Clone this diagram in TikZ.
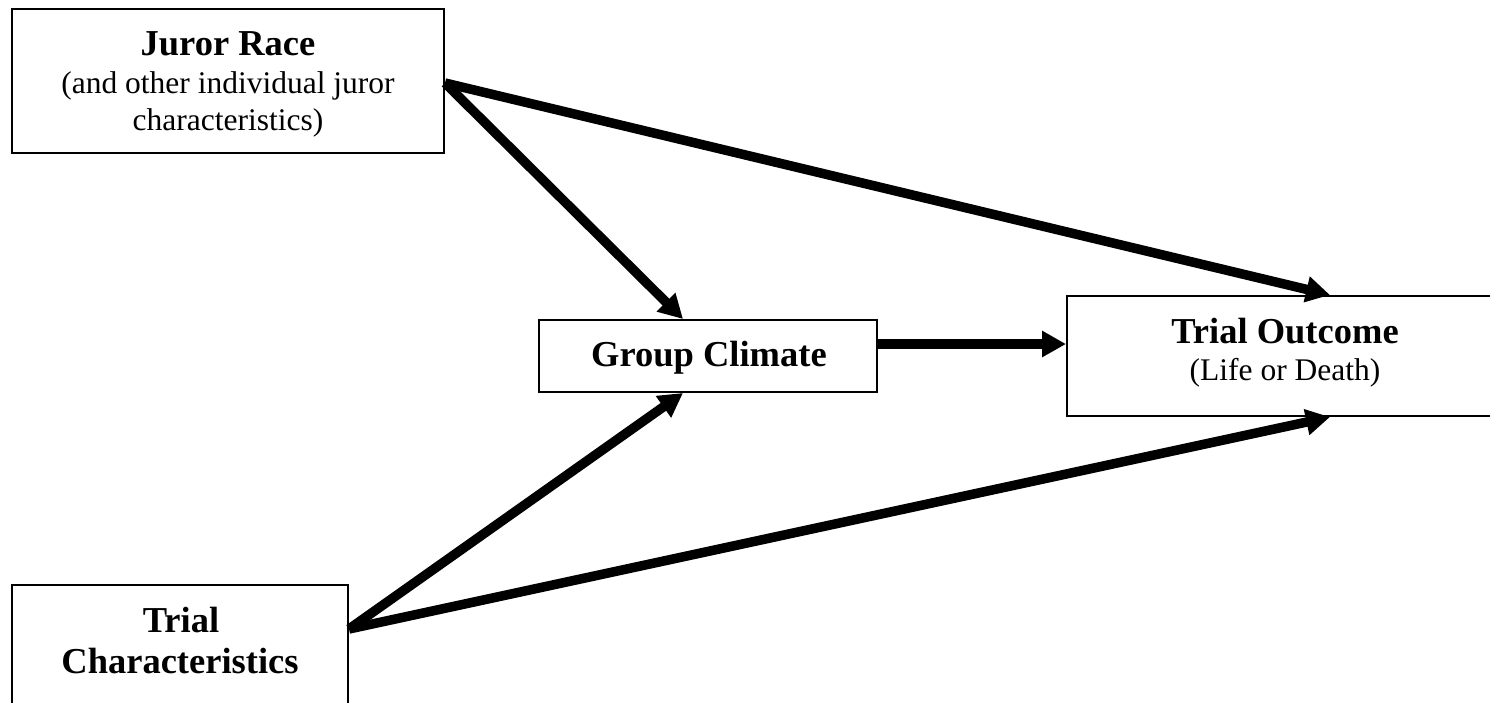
\documentclass[tikz,border=0pt]{standalone}
\usepackage{fontspec}
\setmainfont{Liberation Serif}
\usetikzlibrary{arrows.meta}
\begin{document}
\begin{tikzpicture}[x=1pt,y=-1pt,
 box/.style={draw,line width=2pt,inner sep=0pt},
 title/.style={font=\fontsize{36.5}{40}\selectfont\bfseries,anchor=base,inner sep=0pt},
 sub/.style={font=\fontsize{31.5}{36}\selectfont,anchor=base,inner sep=0pt},
 conn/.style={line width=9.5pt,-{Triangle[length=24pt,width=25pt]}}]
\useasboundingbox (0,0) rectangle (1490,702);
\clip (0,0) rectangle (1490,702);
\fill[white] (0,0) rectangle (1490,702);
% boxes
\node[box,minimum width=432pt,minimum height=144pt] (jr) at (228,81) {};
\node[box,minimum width=338pt,minimum height=72pt] (gc) at (708,356) {};
\node[box,minimum width=436pt,minimum height=120pt] (to) at (1285,356) {};
\node[box,minimum width=336pt,minimum height=180pt] (tc) at (180,675) {};
% texts
\node[title] (jrt) at (228,55) {Juror Race};
\node[sub] (jrs1) at (228,93) {(and other individual juror};
\node[sub] (jrs2) at (228,130) {characteristics)};
\node[title] (gct) at (709,366) {Group Climate};
\node[title] (tot) at (1285,343) {Trial Outcome};
\node[sub] (tos) at (1285,380) {(Life or Death)};
\node[title] (tct1) at (181,632) {Trial};
\node[title] (tct2) at (180,673) {Characteristics};
% connectors
\draw[conn] ([yshift=-2pt]jr.east) -- ([xshift=-25pt]gc.north);
\draw[conn] ([yshift=-2pt]jr.east) -- ([xshift=45pt]to.north);
\draw[conn] ([yshift=12pt]gc.east) -- ([yshift=12pt]to.west);
\draw[conn] ([yshift=-45pt]tc.north east) -- ([xshift=-25pt]gc.south);
\draw[conn] ([yshift=-45pt]tc.north east) -- ([xshift=45pt]to.south);
\end{tikzpicture}
\end{document}
